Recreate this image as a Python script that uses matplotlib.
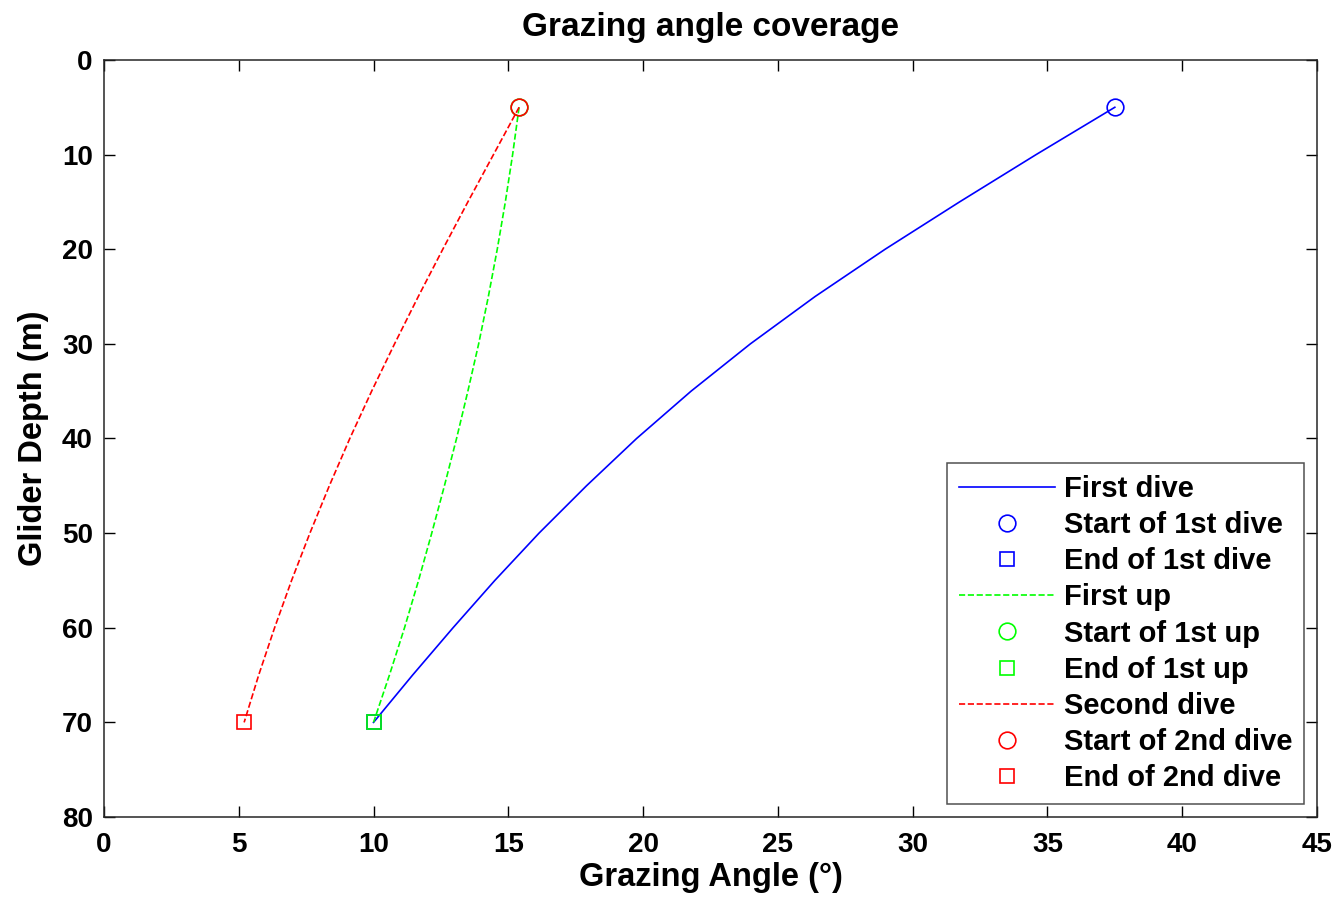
import numpy as np
import matplotlib.pyplot as plt

plt.rcParams['font.family'] = ['Liberation Sans', 'DejaVu Sans']
plt.rcParams['font.weight'] = 'bold'

# depths (m) at which the grazing angles were read
depth = [5, 10, 15, 20, 25, 30, 35, 40, 45, 50, 55, 60, 65, 70]

# grazing angle (deg) for each leg
first_dive = [37.5, 34.58, 31.74, 28.98, 26.38, 23.98, 21.78, 19.76, 17.9, 16.14, 14.5, 12.95, 11.45, 10.0]
first_up = [15.4, 15.16, 14.89, 14.59, 14.26, 13.9, 13.5, 13.08, 12.63, 12.16, 11.67, 11.15, 10.59, 10.0]
second_dive = [15.4, 14.45, 13.5, 12.57, 11.66, 10.78, 9.93, 9.12, 8.36, 7.64, 6.96, 6.33, 5.74, 5.2]

fig = plt.figure(figsize=(13.38, 8.99), dpi=100)
ax = fig.add_axes([0.0777, 0.0912, 0.9066, 0.8421])

ms_c = 12
ms_s = 10.5

ax.plot(first_dive, depth, color=(0, 0, 1), lw=1.2, label="First dive")
ax.plot(first_dive[0], depth[0], 'o', mfc='none', mec=(0, 0, 1), ms=ms_c, mew=1.2, label="Start of 1st dive")
ax.plot(first_dive[-1], depth[-1], 's', mfc='none', mec=(0, 0, 1), ms=ms_s, mew=1.2, label="End of 1st dive")

ax.plot(first_up, depth, '--', color=(0, 1, 0), lw=1.2, label="First up")
ax.plot(first_up[0], depth[0], 'o', mfc='none', mec=(0, 1, 0), ms=ms_c, mew=1.2, label="Start of 1st up")
ax.plot(first_up[-1], depth[-1], 's', mfc='none', mec=(0, 1, 0), ms=ms_s, mew=1.2, label="End of 1st up")

ax.plot(second_dive, depth, '--', color=(1, 0, 0), lw=1.2, label="Second dive")
ax.plot(second_dive[0], depth[0], 'o', mfc='none', mec=(1, 0, 0), ms=ms_c, mew=1.2, label="Start of 2nd dive")
ax.plot(second_dive[-1], depth[-1], 's', mfc='none', mec=(1, 0, 0), ms=ms_s, mew=1.2, label="End of 2nd dive")

ax.set_xlim(0, 45)
ax.set_ylim(80, 0)
ax.set_xticks(np.arange(0, 46, 5))
ax.set_yticks(np.arange(0, 81, 10))
ax.tick_params(direction='in', length=8, width=1, top=True, right=True, labelsize=20)
ax.tick_params(axis='x', pad=11)
ax.tick_params(axis='y', pad=8)
for s in ax.spines.values():
    s.set_linewidth(1.1)
    s.set_color('#262626')

ax.set_title("Grazing angle coverage", fontsize=24, fontweight='bold', pad=17)
ax.set_xlabel("Grazing Angle (°)", fontsize=23.5, fontweight='bold', labelpad=3)
ax.set_ylabel("Glider Depth (m)", fontsize=23.5, fontweight='bold', labelpad=9)

leg = ax.legend(loc='lower right', fontsize=21, frameon=True, fancybox=False,
                edgecolor='#262626', handlelength=3.3, labelspacing=0.28,
                borderaxespad=0.45, handletextpad=0.3, borderpad=0.4)
leg.get_frame().set_linewidth(1.1)

fig.savefig("out.png", dpi=100)
